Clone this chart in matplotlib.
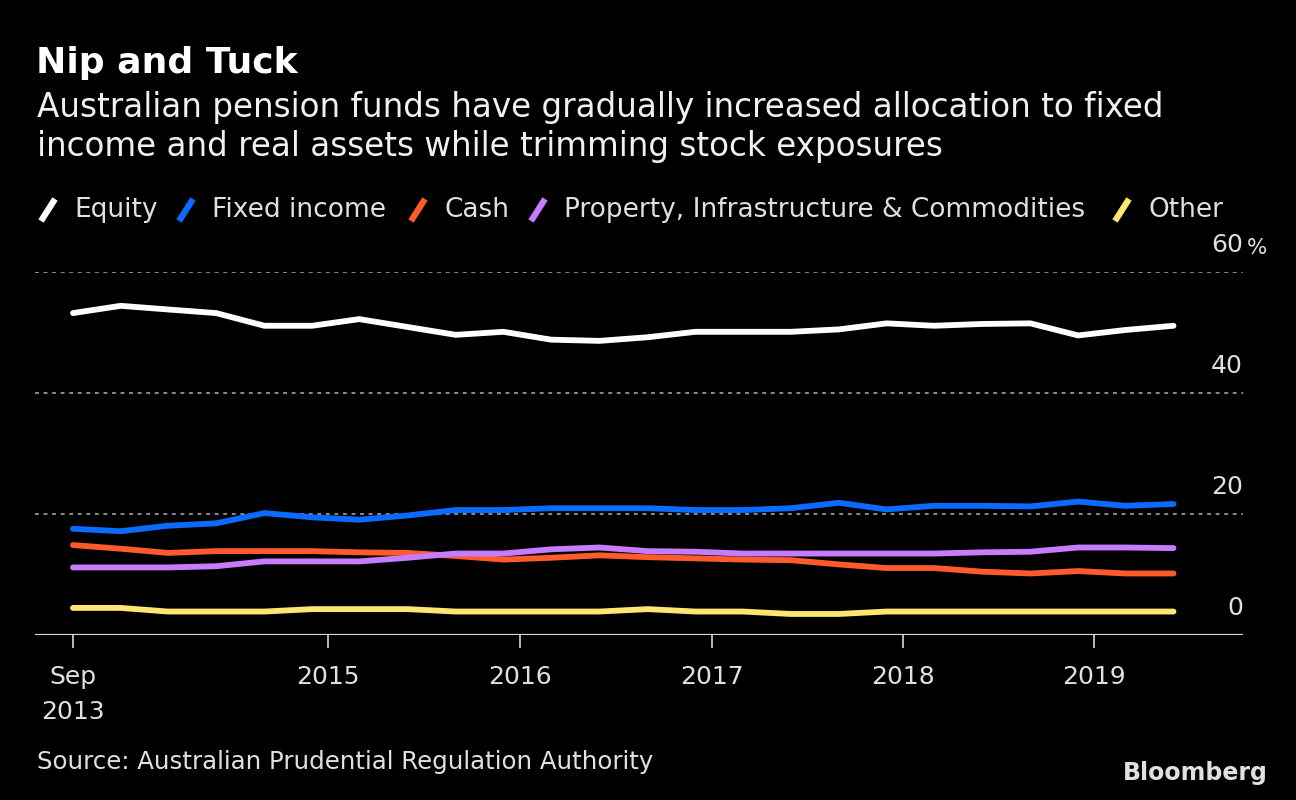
import matplotlib
matplotlib.use("Agg")
import matplotlib.pyplot as plt
import matplotlib.dates as mdates
from matplotlib.lines import Line2D
import datetime as dt

# ---------------- data ----------------
dates = ["2013-09", "2013-12", "2014-03", "2014-06", "2014-09", "2014-12",
         "2015-03", "2015-06", "2015-09", "2015-12", "2016-03", "2016-06",
         "2016-09", "2016-12", "2017-03", "2017-06", "2017-09", "2017-12",
         "2018-03", "2018-06", "2018-09", "2018-12", "2019-03", "2019-06"]
equity = [53.2, 54.4, 53.8, 53.2, 51.1, 51.1, 52.2, 50.9, 49.6, 50.1, 48.8, 48.6,
          49.2, 50.1, 50.1, 50.1, 50.5, 51.5, 51.1, 51.4, 51.5, 49.5, 50.4, 51.1]
fixed_income = [17.5, 17.1, 18.0, 18.4, 20.1, 19.4, 19.0, 19.7, 20.6, 20.6, 20.9, 20.9,
                20.9, 20.6, 20.6, 20.9, 21.8, 20.7, 21.3, 21.3, 21.2, 22.0, 21.3, 21.6]
cash = [14.8, 14.2, 13.5, 13.8, 13.8, 13.8, 13.6, 13.5, 13.0, 12.4, 12.7, 13.1,
        12.8, 12.6, 12.4, 12.3, 11.6, 11.0, 11.0, 10.4, 10.1, 10.5, 10.1, 10.1]
property_infra = [11.1, 11.1, 11.1, 11.3, 12.1, 12.1, 12.1, 12.7, 13.4, 13.4, 14.1, 14.4,
                  13.8, 13.7, 13.4, 13.4, 13.4, 13.4, 13.4, 13.6, 13.7, 14.4, 14.4, 14.3]
other = [4.4, 4.4, 3.8, 3.8, 3.8, 4.2, 4.2, 4.2, 3.8, 3.8, 3.8, 3.8,
         4.2, 3.8, 3.8, 3.4, 3.4, 3.8, 3.8, 3.8, 3.8, 3.8, 3.8, 3.8]

series_names = ["Equity", "Fixed income", "Cash",
                "Property, Infrastructure & Commodities", "Other"]
series_values = [equity, fixed_income, cash, property_infra, other]
series_colors = ["#ffffff", "#0a6cff", "#ff5a2a", "#c57cff", "#ffe670"]

y_ticks = [0, 20, 40, 60]
y_tick_labels = ["0", "20", "40", "60"]
x_tick_dates = ["2013-09", "2015-01", "2016-01", "2017-01", "2018-01", "2019-01"]
x_tick_labels = ["Sep\n2013", "2015", "2016", "2017", "2018", "2019"]

title = "Nip and Tuck"
subtitle = ("Australian pension funds have gradually increased allocation to fixed\n"
            "income and real assets while trimming stock exposures")
source = "Source: Australian Prudential Regulation Authority"

# ---------------- layout ----------------
W, H = 1296, 800
BG = "#000000"
TXT = "#e0e0e0"
plt.rcParams['font.family'] = ['DejaVu Sans']

def to_date(s):
    y, m = s.split("-")
    return dt.date(int(y), int(m), 1)

xs = [to_date(d) for d in dates]

fig = plt.figure(figsize=(W / 100, H / 100), dpi=100, facecolor=BG)

ax_left, ax_right = 35, 1243
ax_bottom, ax_top = 634.5, 272
ax = fig.add_axes([ax_left / W, 1 - ax_bottom / H,
                   (ax_right - ax_left) / W, (ax_bottom - ax_top) / H])
ax.set_facecolor(BG)

for vals, col in zip(series_values, series_colors):
    ax.plot(xs, vals, color=col, lw=4.2, solid_capstyle="round",
            solid_joinstyle="round", zorder=3)

# x limits: Sep 2013 first point sits 38 px right of axes left
px_per_day = 191.5 / 365.25
x0 = mdates.date2num(to_date(dates[0]))
xmin = x0 - (73 - ax_left) / px_per_day
xmax = x0 + (ax_right - 73) / px_per_day
ax.set_xlim(xmin, xmax)
ax.set_ylim(0, 60)

# gridlines
for t in y_ticks[1:]:
    ax.axhline(t, color="#8a8a8a", lw=1.4, linestyle=(0, (2.0, 2.4)), zorder=1)
ax.axhline(0, color="#d8d8d8", lw=1.6, zorder=2)

# y tick labels inside, above gridlines, right aligned
ax.set_yticks([])
for t, lab in zip(y_ticks, y_tick_labels):
    ax.text(1.0, t + 2.4, lab, transform=ax.get_yaxis_transform(), ha="right",
            va="bottom", color=TXT, fontsize=18)
ax.text(1.003, 60 + 2.4, "%", transform=ax.get_yaxis_transform(), ha="left",
        va="bottom", color=TXT, fontsize=15.5)

ax.set_xticks([mdates.date2num(to_date(d)) for d in x_tick_dates])
ax.set_xticklabels(x_tick_labels, color=TXT, fontsize=18, linespacing=1.55)
ax.tick_params(axis="x", direction="out", length=9, width=1.2, color="#d8d8d8",
               pad=13)
for lab in ax.get_xticklabels():
    lab.set_verticalalignment("top")
for s in ax.spines.values():
    s.set_visible(False)

# ---------------- texts ----------------
def fx(px):
    return px / W

def fy(py):
    return 1 - py / H

fig.text(fx(36), fy(63), title, color="#ffffff", fontsize=26, fontweight="bold",
         va="center", ha="left")
fig.text(fx(37), fy(127), subtitle, color="#f0f0f0", fontsize=23.5, va="center",
         ha="left", linespacing=1.22)

# legend
handle_x = [40, 178, 410, 530, 1114]
for hx, name, col in zip(handle_x, series_names, series_colors):
    fig.add_artist(Line2D([fx(hx + 1), fx(hx + 15)], [fy(221), fy(199)],
                          color=col, lw=4.5, solid_capstyle="butt",
                          transform=fig.transFigure))
    fig.text(fx(hx + 34), fy(210), name, color=TXT, fontsize=19,
             va="center", ha="left")

fig.text(fx(37), fy(762), source, color=TXT, fontsize=17.6, va="center", ha="left")
fig.text(fx(1268), fy(773), "Bloomberg", color="#e0e0e0", fontsize=17,
         fontweight="bold", va="center", ha="right")

fig.savefig("out.png", dpi=100, facecolor=BG)
